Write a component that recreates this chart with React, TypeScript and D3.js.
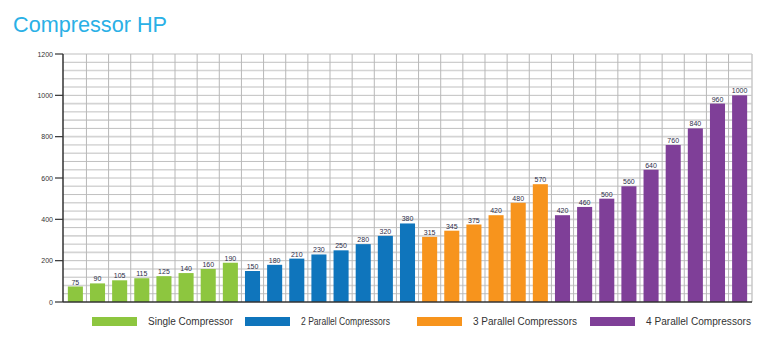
import React from "react";
import * as d3 from "d3";

const singleValues = [75, 90, 105, 115, 125, 140, 160, 190];
const twoParallelValues = [150, 180, 210, 230, 250, 280, 320, 380];
const threeParallelValues = [315, 345, 375, 420, 480, 570];
const fourParallelValues = [420, 460, 500, 560, 640, 760, 840, 960, 1000];
const seriesNames = ["Single Compressor", "2 Parallel Compressors", "3 Parallel Compressors", "4 Parallel Compressors"];
const seriesColors = ["#8dc63f", "#0f75bc", "#f7941d", "#7f3f98"];
const yTicks = [0, 200, 400, 600, 800, 1000, 1200];
const title = "Compressor HP";

const W = 783;
const H = 342;
const left = 63;
const right = 752;
const top = 54;
const bottom = 302;

export default function App() {
  const groups = [singleValues, twoParallelValues, threeParallelValues, fourParallelValues];
  const bars: { v: number; s: number; i: number }[] = [];
  groups.forEach((g, s) => g.forEach((v) => bars.push({ v, s, i: bars.length })));

  const x = d3
    .scaleBand<number>()
    .domain(bars.map((b) => b.i))
    .range([left + 1.3, right - 1.3])
    .paddingInner(0.32)
    .paddingOuter(0.16);
  const y = d3.scaleLinear().domain([0, 1200]).range([bottom, top]);
  const step = x.step();
  const x0 = (x(0) as number) - step * 0.16;

  const hGrid = d3.range(40, 1201, 40);
  const vGrid = d3.range(1, bars.length).map((i) => x0 + i * step);

  const legendRects = [92, 245, 417, 590];
  const legendWidths = [85, 89, 104, 105];

  return (
    <svg
      width={W}
      height={H}
      style={{ position: "absolute", left: 0, top: 0, background: "#fff" }}
      fontFamily="Liberation Sans, Arial, sans-serif"
    >
      <text x={13} y={32} fontSize={22.5} fill="#2ab0e6" textLength={154} lengthAdjust="spacingAndGlyphs">
        {title}
      </text>
      {hGrid.map((v) => (
        <line key={"h" + v} x1={left} x2={right} y1={y(v)} y2={y(v)} stroke={v % 80 === 0 ? "#d4d4d4" : "#c0c0c0"} strokeWidth={v % 80 === 0 ? 1.6 : 1} />
      ))}
      {vGrid.map((gx, i) => (
        <line key={"v" + i} x1={gx} x2={gx} y1={top} y2={bottom} stroke="#b8b8b8" strokeWidth={1} />
      ))}
      <line x1={right} x2={right} y1={top} y2={bottom} stroke="#c8c8c8" strokeWidth={1.5} />
      {bars.map((b) => (
        <rect
          key={"b" + b.i}
          x={x(b.i)}
          y={y(b.v)}
          width={x.bandwidth()}
          height={bottom - y(b.v)}
          fill={seriesColors[b.s]}
        />
      ))}
      {bars.map((b) => (
        <text
          key={"l" + b.i}
          x={(x(b.i) as number) + x.bandwidth() / 2}
          y={y(b.v) - 2}
          fontSize={7}
          textAnchor="middle"
          fill="#2e2e4a"
        >
          {b.v}
        </text>
      ))}
      <line x1={left} x2={left} y1={top} y2={bottom} stroke="#333" strokeWidth={1.5} />
      <line x1={left} x2={right} y1={bottom} y2={bottom} stroke="#333" strokeWidth={1.5} />
      {yTicks.map((t) => (
        <g key={"t" + t}>
          <line x1={55} x2={left} y1={y(t)} y2={y(t)} stroke="#333" strokeWidth={1.2} />
          <text x={53} y={y(t) + 2.5} fontSize={7} textAnchor="end" fill="#333">
            {t}
          </text>
        </g>
      ))}
      {seriesNames.map((n, i) => (
        <g key={"lg" + i}>
          <rect x={legendRects[i]} y={317} width={45} height={9} fill={seriesColors[i]} />
          <text
            x={legendRects[i] + 56}
            y={325}
            fontSize={10}
            fill="#333"
            textLength={legendWidths[i]}
            lengthAdjust="spacingAndGlyphs"
          >
            {n}
          </text>
        </g>
      ))}
    </svg>
  );
}
